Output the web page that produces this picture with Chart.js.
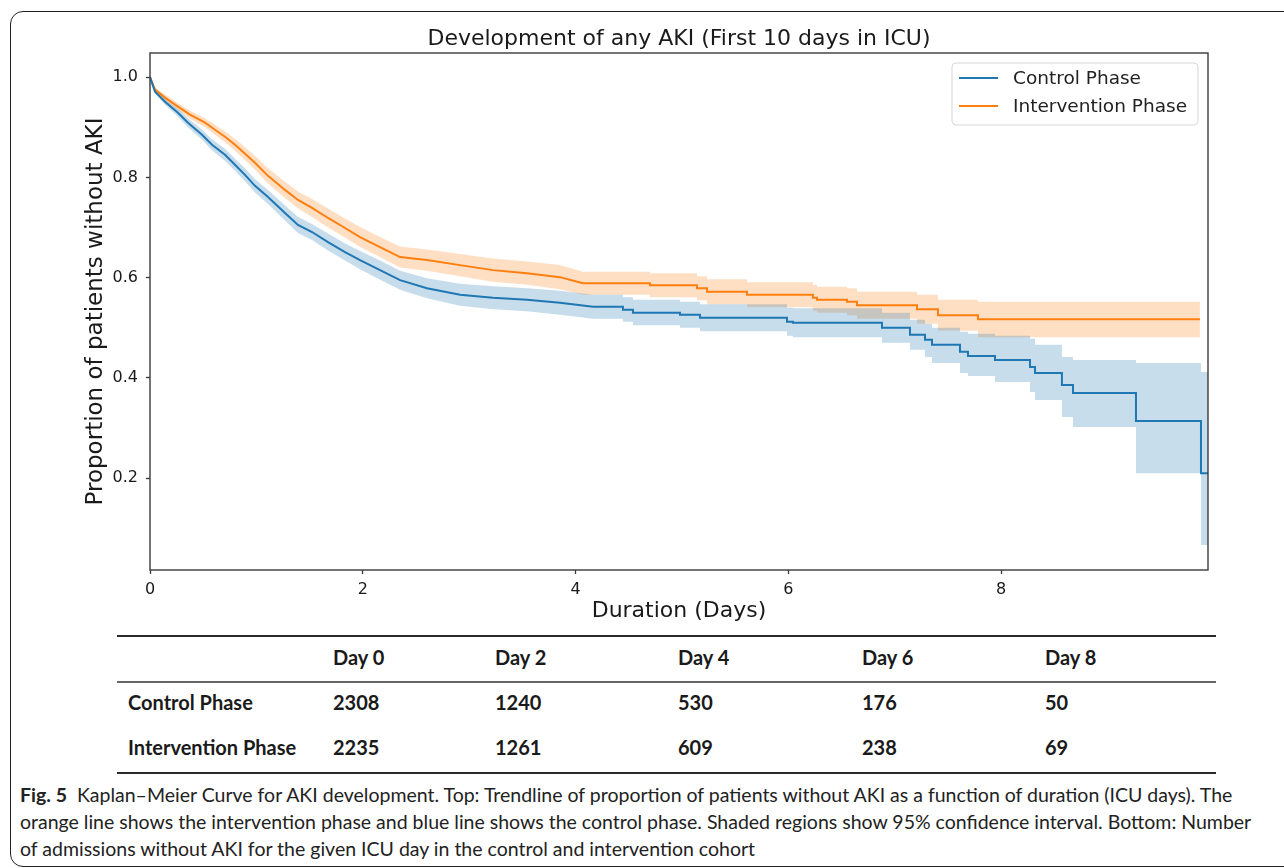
<!DOCTYPE html>
<html>
<head>
<meta charset="utf-8">
<script src="https://cdn.jsdelivr.net/npm/chart.js@4.4.1/dist/chart.umd.min.js"></script>
<style>
  html, body { margin:0; padding:0; }
  body { width:1284px; height:868px; overflow:hidden; background:#fff; position:relative; font-family:"DejaVu Sans", sans-serif; }
  #frame { position:absolute; left:10px; top:11px; width:1400px; height:856px; border:1.3px solid #222; border-radius:13px; box-sizing:border-box; }
  #wrap { position:absolute; left:0; top:0; width:1284px; height:630px; }
  .rule { position:absolute; left:117px; width:1099px; background:#2a2a2a; }
  .rule.mid { background:#666; }
  .cell { position:absolute; font-family:Lato, "Liberation Sans", sans-serif; font-weight:700; font-size:20px; color:#1a1a1a; line-height:1; white-space:nowrap; transform:translateY(-50%); }
  .cap { position:absolute; left:20px; font-family:Lato, "Liberation Sans", sans-serif; font-size:19.5px; color:#222; white-space:nowrap; line-height:1; transform:translateY(-50%); }
  .cap b { font-weight:700; }
</style>
</head>
<body>
<div id="frame"></div>
<div id="wrap"><canvas id="c" width="1284" height="630"></canvas></div>
<div id="table"></div>
<div id="caption">
  <div class="cap" style="top:795px"><b>Fig. 5</b>&nbsp; Kaplan–Meier Curve for AKI development. Top: Trendline of proportion of patients without AKI as a function of duration (ICU days). The</div>
  <div class="cap" style="top:822px">orange line shows the intervention phase and blue line shows the control phase. Shaded regions show 95% confidence interval. Bottom: Number</div>
  <div class="cap" style="top:849px">of admissions without AKI for the given ICU day in the control and intervention cohort</div>
</div>
<script>
// ---------------- DATA ----------------
const chartTitle = 'Development of any AKI (First 10 days in ICU)';
const seriesNames = ['Control Phase', 'Intervention Phase'];

// Control phase – early (dense, smooth) part
const controlEarlyDays  = [0, 0.047, 0.141, 0.263, 0.357, 0.489, 0.583, 0.705, 0.799, 0.893, 0.987, 1.109, 1.269, 1.391, 1.523, 1.673, 1.833, 1.974, 2.162, 2.350, 2.603, 2.914, 3.224, 3.543, 3.853, 4.164];
const controlEarlySurv  = [1.000, 0.971, 0.951, 0.929, 0.909, 0.885, 0.865, 0.845, 0.825, 0.805, 0.783, 0.761, 0.729, 0.705, 0.691, 0.671, 0.651, 0.635, 0.615, 0.595, 0.579, 0.566, 0.560, 0.556, 0.550, 0.542];
const controlEarlyLower = [1.000, 0.967, 0.945, 0.921, 0.900, 0.875, 0.854, 0.833, 0.813, 0.792, 0.770, 0.747, 0.714, 0.689, 0.675, 0.654, 0.634, 0.617, 0.596, 0.576, 0.559, 0.544, 0.537, 0.533, 0.526, 0.518];
const controlEarlyUpper = [1.000, 0.975, 0.957, 0.937, 0.918, 0.895, 0.876, 0.857, 0.837, 0.818, 0.796, 0.775, 0.744, 0.721, 0.707, 0.688, 0.668, 0.653, 0.634, 0.614, 0.599, 0.588, 0.583, 0.579, 0.574, 0.566];

// Control phase – late (clearly stepped) part: day of each drop and new level
const controlLateDays  = [4.164, 4.445, 4.539, 4.981, 5.169, 5.987, 6.043, 6.880, 7.143, 7.284, 7.350, 7.613, 7.688, 7.942, 8.271, 8.318, 8.571, 8.675, 9.267, 9.878, 9.944];
const controlLateSurv  = [0.542, 0.536, 0.530, 0.526, 0.520, 0.512, 0.510, 0.500, 0.486, 0.476, 0.466, 0.452, 0.444, 0.436, 0.422, 0.410, 0.386, 0.370, 0.314, 0.210, 0.210];
const controlLateLower = [0.518, 0.512, 0.505, 0.500, 0.493, 0.484, 0.481, 0.470, 0.456, 0.442, 0.430, 0.410, 0.404, 0.392, 0.372, 0.356, 0.322, 0.302, 0.210, 0.067, 0.067];
const controlLateUpper = [0.566, 0.561, 0.556, 0.552, 0.547, 0.540, 0.539, 0.530, 0.516, 0.508, 0.500, 0.492, 0.488, 0.484, 0.478, 0.466, 0.442, 0.436, 0.430, 0.412, 0.412];

// Intervention phase – early part
const interventionEarlyDays  = [0, 0.047, 0.141, 0.263, 0.376, 0.517, 0.611, 0.705, 0.799, 0.893, 0.987, 1.109, 1.269, 1.391, 1.523, 1.673, 1.833, 1.974, 2.162, 2.350, 2.603, 2.914, 3.224, 3.543, 3.853, 4.070];
const interventionEarlySurv  = [1.000, 0.975, 0.959, 0.941, 0.925, 0.909, 0.895, 0.881, 0.865, 0.847, 0.829, 0.803, 0.775, 0.755, 0.739, 0.719, 0.699, 0.681, 0.661, 0.641, 0.635, 0.625, 0.615, 0.609, 0.601, 0.589];
const interventionEarlyLower = [1.000, 0.971, 0.953, 0.934, 0.917, 0.900, 0.885, 0.870, 0.853, 0.834, 0.815, 0.788, 0.759, 0.738, 0.721, 0.700, 0.680, 0.661, 0.641, 0.620, 0.614, 0.603, 0.592, 0.586, 0.577, 0.566];
const interventionEarlyUpper = [1.000, 0.979, 0.965, 0.948, 0.933, 0.918, 0.905, 0.892, 0.877, 0.860, 0.843, 0.818, 0.791, 0.772, 0.757, 0.738, 0.718, 0.701, 0.681, 0.662, 0.656, 0.647, 0.638, 0.632, 0.625, 0.612];

// Intervention phase – late (stepped) part
const interventionLateDays  = [4.070, 4.699, 5.141, 5.235, 5.611, 6.231, 6.269, 6.551, 6.645, 7.209, 7.406, 7.782, 9.868];
const interventionLateSurv  = [0.589, 0.585, 0.579, 0.572, 0.566, 0.560, 0.556, 0.552, 0.545, 0.537, 0.525, 0.517, 0.517];
const interventionLateLower = [0.566, 0.561, 0.555, 0.547, 0.541, 0.534, 0.530, 0.525, 0.518, 0.508, 0.494, 0.481, 0.481];
const interventionLateUpper = [0.612, 0.609, 0.603, 0.597, 0.591, 0.586, 0.582, 0.579, 0.572, 0.566, 0.556, 0.552, 0.552];

// axes
const xRange = [0, 9.944];
const yRange = [0.017, 1.048];
const xTickValues = [0, 2, 4, 6, 8];
const xTickLabels = ['0', '2', '4', '6', '8'];
const yTickValues = [0.2, 0.4, 0.6, 0.8, 1.0];
const yTickLabels = ['0.2', '0.4', '0.6', '0.8', '1.0'];

// number-at-risk table
const tableHeaders = ['Day 0', 'Day 2', 'Day 4', 'Day 6', 'Day 8'];
const controlAtRisk = [2308, 1240, 530, 176, 50];
const interventionAtRisk = [2235, 1261, 609, 238, 69];

// ---------------- STYLE ----------------
const BLUE = '#1f77b4', ORANGE = '#ff7f0e';
const BLUE_BAND = 'rgba(31,119,180,0.25)', ORANGE_BAND = 'rgba(255,127,14,0.25)';
const CLEAR = 'rgba(0,0,0,0)';
const FONT = '"DejaVu Sans", sans-serif';

const pts = (xs, ys) => xs.map((x, i) => ({x: x, y: ys[i]}));

function group(days, surv, lo, hi, color, band, stepped, label) {
  return [
    {label: label, data: pts(days, surv), borderColor: color, borderWidth: 2, pointRadius: 0, fill: false, stepped: stepped, tension: 0},
    {label: label + ' upper', data: pts(days, hi), borderColor: CLEAR, borderWidth: 0, pointRadius: 0, fill: '+1', backgroundColor: band, stepped: stepped, tension: 0},
    {label: label + ' lower', data: pts(days, lo), borderColor: CLEAR, borderWidth: 0, pointRadius: 0, fill: false, stepped: stepped, tension: 0}
  ];
}

const datasets = [].concat(
  group(controlEarlyDays, controlEarlySurv, controlEarlyLower, controlEarlyUpper, BLUE, BLUE_BAND, false, seriesNames[0]),
  group(controlLateDays, controlLateSurv, controlLateLower, controlLateUpper, BLUE, BLUE_BAND, 'before', seriesNames[0]),
  group(interventionEarlyDays, interventionEarlySurv, interventionEarlyLower, interventionEarlyUpper, ORANGE, ORANGE_BAND, false, seriesNames[1]),
  group(interventionLateDays, interventionLateSurv, interventionLateLower, interventionLateUpper, ORANGE, ORANGE_BAND, 'before', seriesNames[1])
);

const spinesAndLegend = {
  id: 'spinesAndLegend',
  afterDatasetsDraw(chart) {
    const ctx = chart.ctx, a = chart.chartArea;
    ctx.save();
    ctx.strokeStyle = '#3a3a3a';
    ctx.lineWidth = 1.4;
    ctx.strokeRect(a.left, a.top, a.right - a.left, a.bottom - a.top);
    // title centred over the axes (matplotlib style)
    ctx.font = '22px ' + FONT;
    ctx.fillStyle = '#1a1a1a';
    ctx.textAlign = 'center';
    ctx.textBaseline = 'middle';
    ctx.fillText(chartTitle, (a.left + a.right) / 2, a.top - 14);
    // legend box (matplotlib style, upper right)
    ctx.textAlign = 'left';
    const w = 246, h = 62;
    const x0 = a.right - 10 - w, y0 = a.top + 10, r = 4;
    ctx.beginPath();
    ctx.moveTo(x0 + r, y0); ctx.lineTo(x0 + w - r, y0); ctx.arcTo(x0 + w, y0, x0 + w, y0 + r, r);
    ctx.lineTo(x0 + w, y0 + h - r); ctx.arcTo(x0 + w, y0 + h, x0 + w - r, y0 + h, r);
    ctx.lineTo(x0 + r, y0 + h); ctx.arcTo(x0, y0 + h, x0, y0 + h - r, r);
    ctx.lineTo(x0, y0 + r); ctx.arcTo(x0, y0, x0 + r, y0, r);
    ctx.closePath();
    ctx.fillStyle = 'rgba(255,255,255,0.8)';
    ctx.fill();
    ctx.strokeStyle = '#d6d6d6';
    ctx.lineWidth = 1;
    ctx.stroke();
    const colors = [BLUE, ORANGE];
    ctx.font = '18.5px ' + FONT;
    ctx.textBaseline = 'middle';
    seriesNames.forEach((name, i) => {
      const yy = y0 + 15 + i * 28;
      ctx.beginPath();
      ctx.moveTo(x0 + 7, yy); ctx.lineTo(x0 + 46, yy);
      ctx.strokeStyle = colors[i]; ctx.lineWidth = 2;
      ctx.stroke();
      ctx.fillStyle = '#222';
      ctx.fillText(name, x0 + 61, yy + 1);
    });
    ctx.restore();
  }
};

new Chart(document.getElementById('c'), {
  type: 'line',
  data: {datasets: datasets},
  plugins: [spinesAndLegend],
  options: {
    responsive: false,
    animation: false,
    devicePixelRatio: 1,
    layout: {padding: {left: 0, right: 76, top: 53, bottom: 0}},
    plugins: {
      legend: {display: false},
      tooltip: {enabled: false},
      filler: {drawTime: 'beforeDatasetsDraw'},
      title: {display: false}
    },
    scales: {
      x: {
        type: 'linear',
        min: xRange[0], max: xRange[1],
        afterFit: s => { s.height = 60; },
        afterBuildTicks: s => { s.ticks = xTickValues.map(v => ({value: v})); },
        border: {display: false},
        grid: {display: true, drawOnChartArea: false, drawTicks: true, tickLength: 4, tickWidth: 1.3, color: '#3a3a3a'},
        ticks: {
          color: '#1a1a1a', padding: 6, maxRotation: 0,
          font: {family: FONT, size: 16},
          callback: (v) => xTickLabels[xTickValues.indexOf(v)]
        },
        title: {display: true, text: 'Duration (Days)', color: '#1a1a1a', font: {family: FONT, size: 22}, padding: {top: 0, bottom: 6}}
      },
      y: {
        type: 'linear',
        min: yRange[0], max: yRange[1],
        afterFit: s => { s.width = 150; },
        afterBuildTicks: s => { s.ticks = yTickValues.map(v => ({value: v})); },
        border: {display: false},
        grid: {display: true, drawOnChartArea: false, drawTicks: true, tickLength: 4, tickWidth: 1.3, color: '#3a3a3a'},
        ticks: {
          color: '#1a1a1a', padding: 8,
          font: {family: FONT, size: 16},
          callback: (v) => yTickLabels[yTickValues.indexOf(v)]
        },
        title: {display: true, text: 'Proportion of patients without AKI', color: '#1a1a1a', font: {family: FONT, size: 23}, padding: {top: 82, bottom: 0}}
      }
    }
  }
});

// ---------------- TABLE (HTML) ----------------
(function buildTable() {
  const t = document.getElementById('table');
  const colX = [333, 495, 678, 862, 1045];
  const rows = [
    {y: 657, label: '', vals: tableHeaders},
    {y: 702, label: 'Control Phase', vals: controlAtRisk},
    {y: 747, label: 'Intervention Phase', vals: interventionAtRisk}
  ];
  [[636, 2, ''], [682, 2, ' mid'], [773, 2, '']].forEach(([y, th, cls]) => {
    const d = document.createElement('div');
    d.className = 'rule' + cls;
    d.style.top = (y - th / 2) + 'px';
    d.style.height = th + 'px';
    t.appendChild(d);
  });
  rows.forEach(r => {
    if (r.label) {
      const d = document.createElement('div');
      d.className = 'cell'; d.style.left = '128px'; d.style.top = r.y + 'px';
      d.textContent = r.label; t.appendChild(d);
    }
    r.vals.forEach((v, i) => {
      const d = document.createElement('div');
      d.className = 'cell'; d.style.left = colX[i] + 'px'; d.style.top = r.y + 'px';
      d.textContent = String(v); t.appendChild(d);
    });
  });
})();
</script>
</body>
</html>
